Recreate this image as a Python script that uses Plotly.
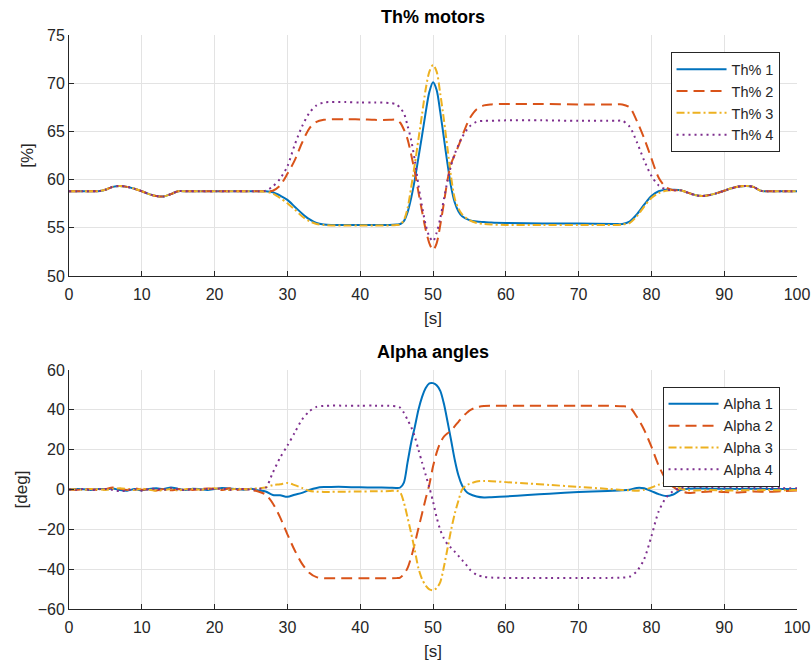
import plotly.graph_objects as go

# ---- Thrust percentage of the four motors -------------------------------
t_th = [0, 2, 4, 5, 6, 7, 8, 9, 10, 11, 12, 13, 14, 15, 16, 18, 20, 22, 24, 26,
        27, 28, 29, 30, 31, 32, 33, 34, 35, 36, 38, 40, 42, 44, 45, 45.5, 46, 46.5,
        47, 47.5, 48, 48.5, 49, 49.5, 50, 50.5, 51, 51.5, 52, 52.5, 53, 53.5, 54,
        55, 56, 57, 58, 60, 65, 70, 75, 76, 77, 78, 79, 80, 81, 82, 83, 84, 85, 86,
        87, 88, 89, 90, 91, 92, 93, 94, 95, 96, 98, 100]

th1 = [58.8, 58.8, 58.8, 58.95, 59.25, 59.35, 59.25, 59.05, 58.8, 58.5, 58.3, 58.25, 58.5, 58.8, 58.8, 58.8, 58.8, 58.8, 58.8, 58.8,
       58.8, 58.7, 58.35, 57.9, 57.2, 56.5, 55.9, 55.5, 55.35, 55.3, 55.3, 55.3, 55.3, 55.3, 55.35, 55.4, 55.7, 56.6,
       58.1, 60.0, 62.3, 64.6, 67.0, 69.1, 70.1, 69.3, 67.0, 64.3, 61.6, 59.2, 57.6, 56.7, 56.2,
       55.8, 55.65, 55.6, 55.55, 55.5, 55.45, 55.45, 55.4, 55.4, 55.65, 56.4, 57.4, 58.3, 58.8, 58.95, 58.95, 58.9, 58.65, 58.4,
       58.3, 58.4, 58.6, 58.85, 59.1, 59.28, 59.35, 59.25, 58.85, 58.8, 58.8, 58.8]

th2 = [58.8, 58.8, 58.8, 58.95, 59.25, 59.35, 59.25, 59.05, 58.8, 58.5, 58.3, 58.25, 58.5, 58.8, 58.8, 58.8, 58.8, 58.8, 58.8, 58.8,
       58.8, 58.85, 59.4, 60.6, 62.0, 63.8, 65.3, 66.0, 66.2, 66.25, 66.25, 66.25, 66.2, 66.2, 66.2, 65.9, 65.2, 64.2,
       62.6, 60.8, 58.7, 56.7, 54.8, 53.4, 52.7, 53.4, 55.3, 57.6, 60.0, 61.7, 62.6, 63.5, 64.5,
       66.3, 67.3, 67.7, 67.8, 67.85, 67.85, 67.8, 67.8, 67.8, 67.5, 66.1, 64.3, 62.2, 60.2, 59.2, 58.9, 58.9, 58.65, 58.4,
       58.3, 58.4, 58.6, 58.85, 59.1, 59.28, 59.35, 59.25, 58.85, 58.8, 58.8, 58.8]

th3 = [58.8, 58.8, 58.8, 58.95, 59.25, 59.35, 59.25, 59.05, 58.8, 58.5, 58.3, 58.25, 58.5, 58.8, 58.8, 58.8, 58.8, 58.8, 58.8, 58.8,
       58.75, 58.55, 58.1, 57.55, 56.9, 56.2, 55.7, 55.4, 55.3, 55.25, 55.25, 55.25, 55.25, 55.25, 55.3, 55.35, 55.8, 57.0,
       59.2, 61.6, 64.2, 66.8, 69.4, 71.2, 71.9, 71.2, 68.9, 66.2, 63.2, 60.2, 58.0, 57.0, 56.4,
       55.8, 55.5, 55.4, 55.35, 55.3, 55.3, 55.3, 55.3, 55.35, 55.5, 56.2, 57.2, 58.1, 58.6, 58.85, 58.9, 58.9, 58.65, 58.4,
       58.3, 58.4, 58.6, 58.85, 59.1, 59.28, 59.35, 59.25, 58.85, 58.8, 58.8, 58.8]

th4 = [58.8, 58.8, 58.8, 58.95, 59.25, 59.35, 59.25, 59.05, 58.8, 58.5, 58.3, 58.25, 58.5, 58.8, 58.8, 58.8, 58.8, 58.8, 58.8, 58.8,
       58.85, 59.3, 60.1, 61.4, 63.6, 65.5, 66.9, 67.7, 68.0, 68.05, 68.05, 68.0, 68.0, 67.95, 67.8, 67.4, 66.9, 65.6,
       64.1, 62.0, 59.4, 57.2, 55.3, 54.1, 53.6, 54.5, 56.0, 58.0, 59.9, 61.5, 62.7, 63.6, 64.4,
       65.5, 66.0, 66.1, 66.1, 66.15, 66.15, 66.1, 66.1, 66.1, 65.5, 63.9, 62.0, 60.4, 59.4, 59.0, 58.9, 58.9, 58.65, 58.4,
       58.3, 58.4, 58.6, 58.85, 59.1, 59.28, 59.35, 59.25, 58.85, 58.8, 58.8, 58.8]

# ---- Tilt angles of the four motors --------------------------------------
t_al = [0, 1, 2, 3, 4, 5, 6, 7, 8, 9, 10, 11, 12, 13, 14, 15, 16, 17, 18, 19, 20, 21, 22, 23, 24, 25, 26,
        27, 28, 29, 30, 31, 32, 33, 34, 35, 36, 38, 40, 42, 44, 45, 45.5, 46, 46.5, 47, 47.5, 48, 48.5,
        49, 49.5, 50, 50.5, 51, 51.5, 52, 52.5, 53, 53.5, 54, 54.5, 55, 56, 57, 58, 60, 63, 66, 70, 74,
        76, 77, 78, 79, 80, 81, 82, 83, 84, 85, 86, 88, 90, 92, 94, 96, 98, 100]

al1 = [0, 0.2, 0.1, -0.2, 0.3, 0.1, 0.5, -0.3, -0.6, 0.2, -0.4, 0.3, 0.6, 0.2, 1.0, 0.3, -0.2, 0.4, 0.1, -0.3, 0.2, 0.8, 0.5, 0.3, -0.1, 0.4, -0.5,
       -1.0, -2.8, -2.9, -3.7, -2.6, -1.7, -0.2, 0.8, 1.2, 1.3, 1.3, 1.1, 1.0, 0.9, 0.8, 1.0, 3.5, 13.5, 23.5, 31.4, 40.0, 46.5,
       51.0, 53.3, 53.4, 52.3, 49.5, 43.0, 34.0, 24.5, 14.7, 7.0, 2.0, -0.8, -2.2, -3.5, -4.0, -3.9, -3.5, -2.8, -2.1, -1.3, -0.7,
       -0.4, -0.1, 0.8, 0.6, -0.8, -2.3, -3.3, -2.5, -0.3, 0.4, 0.5, 0.4, 0.4, 0.3, 0.4, 0.3, 0.3, 0.2]

al2 = [0, -0.2, 0.1, 0.2, -0.3, 0.2, 1.0, 0.4, -0.2, 0.6, -0.1, 0.2, -0.5, 0.3, -0.4, 0.1, 0.3, -0.2, 0.2, 0.5, 0.4, -0.3, 0.6, -0.2, 0.3, -0.3, -1.0,
       -2.5, -7.0, -14.0, -22.5, -30.5, -37.2, -41.8, -44.0, -44.5, -44.6, -44.6, -44.6, -44.6, -44.6, -44.5, -44.2, -42.5, -39.5, -34.0, -27.1, -19.5, -12.0,
       -4.5, 2.5, 11.5, 18.5, 23.5, 26.5, 28.2, 29.5, 31.8, 34.0, 36.2, 38.0, 39.6, 41.3, 41.9, 42.0, 42.0, 42.0, 42.0, 42.0, 42.0,
       41.8, 41.3, 36.5, 30.0, 21.5, 12.0, 5.0, 1.3, -0.8, -1.7, -1.5, -1.0, -1.3, -1.5, -1.0, -1.2, -0.8, -0.5]

al3 = [0, 0.1, -0.1, 0.2, 0.1, -0.2, 0.3, 0.6, 0.2, -0.3, 0.4, -0.1, -0.6, -0.3, 0.2, -0.5, 0.1, 0.3, -0.1, 0.2, 0.6, 0.2, -0.2, 0.4, 0.1, 0.3, 0.6,
       1.0, 2.2, 2.6, 3.3, 2.2, 0.8, -0.6, -1.1, -1.2, -1.2, -1.1, -1.0, -0.9, -0.8, -0.6, -1.5, -6.5, -14.0, -22.0, -30.5, -39.5, -45.0,
       -48.3, -50.2, -50.6, -49.5, -46.5, -38.8, -29.5, -20.0, -12.0, -5.5, 0.0, 1.8, 2.8, 4.0, 4.3, 4.2, 3.7, 3.0, 2.3, 1.3, 0.3,
       -0.2, -0.4, -0.6, -0.2, 1.0, 2.4, 3.3, 2.5, 0.5, -0.3, -0.5, -0.3, -0.5, -0.4, -0.4, -0.3, -0.4, -0.3]

al4 = [0, -0.1, 0.2, -0.3, 0.1, 0.3, -0.2, -0.8, -0.4, 0.1, -0.6, 0.2, 0.4, -0.2, 0.6, 0.1, -0.3, 0.2, -0.1, 0.3, 0.2, 0.5, -0.2, 0.1, 0.3, -0.1, 0.4,
       0.8, 8.5, 16.0, 22.0, 28.5, 35.0, 39.2, 41.5, 42.0, 42.1, 42.1, 42.1, 42.1, 42.0, 41.7, 41.0, 38.5, 35.0, 31.4, 26.5, 20.0, 13.5,
       7.3, 1.0, -6.0, -14.0, -20.3, -24.6, -27.5, -29.3, -31.3, -33.3, -35.5, -37.5, -40.0, -42.8, -43.8, -44.2, -44.4, -44.4, -44.4, -44.4, -44.4,
       -44.2, -43.8, -41.0, -35.0, -23.5, -11.0, -4.2, -0.8, 0.8, 1.2, 1.3, 1.2, 1.0, 1.2, 0.9, 1.0, 0.7, 0.6]

for s in (th1, th2, th3, th4):
    assert len(s) == len(t_th)
for s in (al1, al2, al3, al4):
    assert len(s) == len(t_al)

colors = ["#0072BD", "#D95319", "#EDB120", "#7E2F8E"]
dashes = ["solid", "11px,6px", "8px,3px,2px,3px", "2px,4px"]
FONT = "Liberation Sans, Arial, Helvetica, sans-serif"
INK = "#262626"

fig = go.Figure()

for i, y in enumerate((th1, th2, th3, th4)):
    fig.add_trace(go.Scatter(
        x=t_th, y=y, mode="lines", name=f"Th% {i + 1}",
        line=dict(color=colors[i], width=2, dash=dashes[i], shape="spline", smoothing=0.8),
        xaxis="x", yaxis="y", legend="legend"))

for i, y in enumerate((al1, al2, al3, al4)):
    fig.add_trace(go.Scatter(
        x=t_al, y=y, mode="lines", name=f"Alpha {i + 1}",
        line=dict(color=colors[i], width=2, dash=dashes[i], shape="spline", smoothing=0.8),
        xaxis="x2", yaxis="y2", legend="legend2"))

axis_common = dict(
    showline=True, linecolor=INK, linewidth=1, mirror=False, automargin=False,
    ticks="inside", ticklen=5, tickcolor=INK, tickwidth=1,
    showgrid=True, gridcolor="#e3e3e3", gridwidth=1, zeroline=False,
    tickfont=dict(family=FONT, size=16, color=INK),
)
xaxis_common = dict(axis_common, ticklabelstandoff=4)
label_font = dict(family=FONT, size=17, color=INK)

legend_common = dict(
    xanchor="right", yanchor="top",
    bgcolor="white", bordercolor=INK, borderwidth=1,
    font=dict(family=FONT, size=14.5, color=INK), itemwidth=50,
    tracegroupgap=0,
)

fig.update_layout(
    width=812, height=663, autosize=False,
    margin=dict(l=69, r=15, t=35, b=54, autoexpand=False),
    paper_bgcolor="white", plot_bgcolor="white",
    font=dict(family=FONT, color=INK),
    showlegend=True,
    xaxis=dict(domain=[0, 1], range=[0, 100], dtick=10, anchor="y",
               title=dict(text="[s]", font=label_font, standoff=9), **xaxis_common),
    yaxis=dict(domain=[0.580, 1], range=[50, 75], dtick=5, anchor="x",
               title=dict(text="[%]", font=label_font, standoff=9), **axis_common),
    xaxis2=dict(domain=[0, 1], range=[0, 100], dtick=10, anchor="y2",
                title=dict(text="[s]", font=label_font, standoff=9), **xaxis_common),
    yaxis2=dict(domain=[0, 0.4164], range=[-60, 60], dtick=20, anchor="x2",
                title=dict(text="[deg]", font=label_font, standoff=5), **axis_common),
    legend=dict(x=0.976, y=0.970, **legend_common),
    legend2=dict(x=0.976, y=0.387, **legend_common),
    annotations=[
        dict(text="<b>Th% motors</b>", xref="paper", yref="paper", x=0.5, y=1.031,
             xanchor="center", yanchor="middle", showarrow=False,
             font=dict(family=FONT, size=18, color="black")),
        dict(text="<b>Alpha angles</b>", xref="paper", yref="paper", x=0.5, y=0.4477,
             xanchor="center", yanchor="middle", showarrow=False,
             font=dict(family=FONT, size=18, color="black")),
    ],
)

fig.write_html("out.html")
